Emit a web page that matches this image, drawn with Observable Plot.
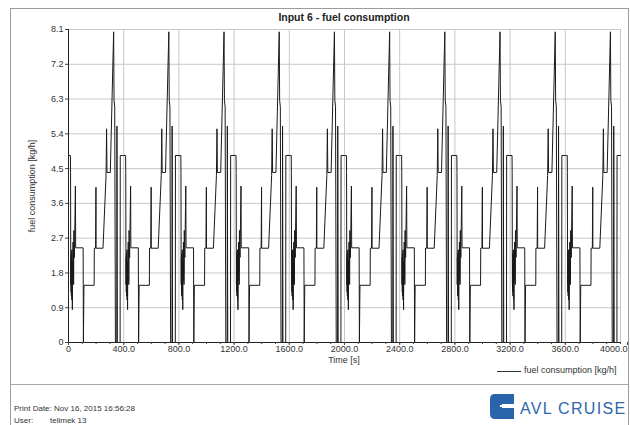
<!DOCTYPE html>
<html>
<head>
<meta charset="utf-8">
<script src="https://cdn.jsdelivr.net/npm/d3@7"></script>
<script src="https://cdn.jsdelivr.net/npm/@observablehq/plot@0.6"></script>
<style>
  body { margin: 0; background: #fff; }
  #page { position: relative; width: 630px; height: 425px; overflow: hidden; background: #fff; font-family: "Liberation Sans", Arial, sans-serif; color: #333; }
  #chart { position: absolute; left: 0; top: 0; }
  .abs { position: absolute; white-space: nowrap; }
</style>
</head>
<body>
<div id="page">
  <div id="chart"></div>
  <div class="abs" style="left:10px;top:8px;width:617px;height:440px;border:1px solid #9c9c9c;"></div>
  <div class="abs" style="left:10px;top:384px;width:618px;height:1px;background:#a8a8a8;"></div>
  <div class="abs" style="left:68px;width:552px;top:11px;text-align:center;font-weight:bold;font-size:10.5px;color:#222;">Input 6 - fuel consumption</div>
  <div class="abs" style="left:32px;top:186px;font-size:9px;transform:translate(-50%,-50%) rotate(-90deg);">fuel consumption [kg/h]</div>
  <div class="abs" style="left:68px;width:552px;top:355px;text-align:center;font-size:9px;">Time [s]</div>
  <div class="abs" style="left:497px;top:371px;width:24px;height:1px;background:#333;"></div>
  <div class="abs" style="left:524px;top:365px;font-size:9px;">fuel consumption [kg/h]</div>
  <div class="abs" style="left:14px;top:404px;font-size:8px;">Print Date: Nov 16, 2015 16:56:28</div>
  <div class="abs" style="left:14px;top:416px;font-size:8px;">User:</div>
  <div class="abs" style="left:50px;top:416px;font-size:8px;">telimek 13</div>
  <svg class="abs" style="left:490px;top:394px;" width="24" height="25" viewBox="0 0 24 25">
    <path d="M5 0 H24 V10 H12 V14 H24 V25 H5 Q0 25 0 20 V5 Q0 0 5 0 Z" fill="#2a64ab"/>
    <rect x="10" y="11" width="14" height="2" fill="#fff"/>
  </svg>
  <div class="abs" style="left:520px;top:400px;font-size:16px;letter-spacing:1.3px;color:#2d67ad;">AVL CRUISE</div>
</div>
<script>
// One driving cycle (seconds within cycle, fuel consumption kg/h)
const cycleTime = [0, 14, 15, 16, 17, 18, 19, 20, 21, 22, 23, 24, 25, 26, 28, 30, 31, 33, 34, 36, 37, 39, 41, 43, 50, 52,
  106, 108, 112, 186, 187, 196, 199, 200, 250, 272, 276, 279, 303, 327, 330, 335, 340, 350, 351, 354, 374, 375];
const cycleFuel = [4.84, 4.84, 4.4, 2.4, 1.5, 2.2, 1.3, 2.3, 1.2, 2.0, 1.4, 2.4, 1.1, 1.9, 0.85, 2.1, 1.6, 2.6, 1.8, 2.4, 1.5, 2.9, 2.5, 2.2, 4.05, 2.45,
  2.45, 0, 1.48, 1.48, 2.44, 2.44, 4.02, 2.44, 2.44, 4.32, 5.53, 4.4, 4.4, 8.04, 6.27, 6.1, 0, 0, 5.6, 0, 0, 4.84];
// start time of each repeated cycle
const cycleStarts = [0, 400, 800, 1200, 1600, 2000, 2400, 2800, 3200, 3600];
const endTime = [4000];
const endFuel = [4.84];

const xTicks = [0, 400, 800, 1200, 1600, 2000, 2400, 2800, 3200, 3600];
const xLastTick = [4000];
const xMinorTicks = d3.range(0, 4001, 100);
const yTicks = [0, 0.9, 1.8, 2.7, 3.6, 4.5, 5.4, 6.3, 7.2, 8.1];

const data = cycleStarts.flatMap(c => cycleTime.map((s, i) => ({t: c + s, v: cycleFuel[i]})))
  .concat(endTime.map((t, i) => ({t, v: endFuel[i]})));

const fmt = d => d === 0 ? "0" : d.toFixed(1);

const chart = Plot.plot({
  width: 630,
  height: 385,
  marginLeft: 68,
  marginRight: 10,
  marginTop: 29,
  marginBottom: 43,
  style: {fontFamily: "Liberation Sans, Arial, sans-serif", fontSize: "9px", color: "#333", background: "transparent"},
  x: {domain: [0, 4000]},
  y: {domain: [0, 8.1]},
  marks: [
    Plot.gridX(xTicks.concat(xLastTick), {stroke: "#c8c8c8", strokeOpacity: 1}),
    Plot.gridY(yTicks, {stroke: "#c8c8c8", strokeOpacity: 1}),
    Plot.line(data, {x: "t", y: "v", stroke: "#1a1a1a", strokeWidth: 1, curve: "linear"}),
    Plot.ruleY([0], {stroke: "#222"}),
    Plot.ruleX([0], {stroke: "#222"}),
    Plot.axisX(xMinorTicks, {tickSize: 2, tickFormat: () => "", label: null, stroke: "#444"}),
    Plot.axisX(xTicks, {tickSize: 3, tickPadding: 0, tickFormat: fmt, label: null, stroke: "#444"}),
    Plot.axisX(xLastTick, {tickSize: 3, tickPadding: 0, tickFormat: fmt, label: null, stroke: "#444", textAnchor: "end", dx: 7})
  ].concat([
    Plot.axisY(yTicks, {tickSize: 3, tickPadding: 2, tickFormat: fmt, label: null, stroke: "#444"})
  ])
});
document.getElementById("chart").appendChild(chart);
</script>
</body>
</html>
